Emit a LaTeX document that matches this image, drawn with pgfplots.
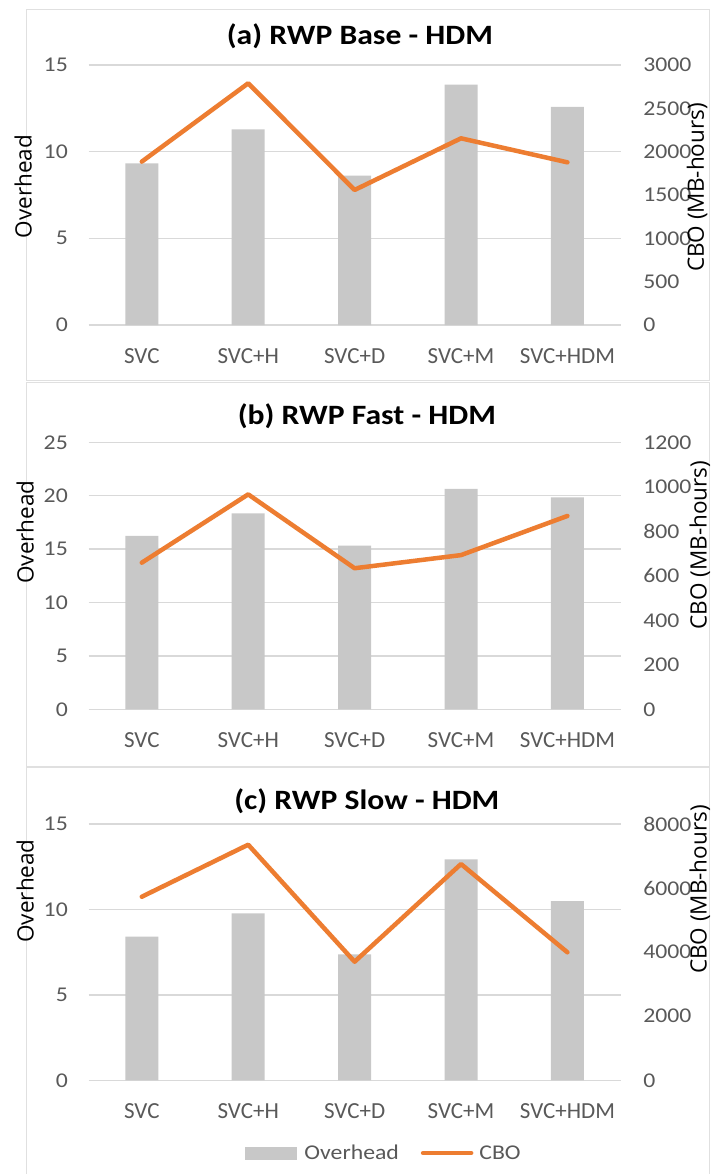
\documentclass[border=0pt]{standalone}
\usepackage{pgfplots}
\pgfplotsset{compat=1.18}
\usepackage{pgfplotstable}
\usepackage{fontspec}
\setmainfont{Carlito}[FakeStretch=1.13]
\newfontfamily\catfont{Carlito}
\newfontfamily\axlabelfont{Open Sans}

\definecolor{barfill}{HTML}{C8C8C8}
\definecolor{cboline}{HTML}{ED7D31}
\definecolor{ticktext}{HTML}{595959}
\definecolor{gridc}{HTML}{D9D9D9}
\definecolor{framec}{HTML}{E0E0E0}

% Overhead and CBO (MB-hours) per configuration
\pgfplotstableread{
idx ovh cbo
0 9.33 1885
1 11.29 2789
2 8.62 1558
3 13.87 2154
4 12.58 1877
}\dataBase
\pgfplotstableread{
idx ovh cbo
0 16.25 659
1 18.35 966
2 15.32 634
3 20.63 693
4 19.85 869
}\dataFast
\pgfplotstableread{
idx ovh cbo
0 8.41 5730
1 9.77 7354
2 7.37 3702
3 12.93 6751
4 10.49 3995
}\dataSlow

\pgfplotsset{
  common/.style={
    scale only axis, width=532pt, anchor=south west,
    xmin=-0.5, xmax=4.5, ymin=0,
    axis line style={draw=none}, major tick length=0pt,
    tick label style={font=\fontsize{21}{25}\selectfont, text=ticktext},
    ylabel style={font=\axlabelfont\fontsize{22.5}{27}\selectfont, text=black, anchor=center},
  },
  leftpanel/.style={
    common,
    xtick={0,...,4}, xticklabels={SVC,SVC+H,SVC+D,SVC+M,SVC+HDM},
    xticklabel style={font=\catfont\fontsize{23}{27}\selectfont, anchor=center, yshift=-31pt},
    yticklabel style={anchor=east, inner sep=0pt, xshift=-20.6pt},
    ymajorgrids, grid style={gridc, line width=1.5pt},
    ylabel={Overhead},
    title style={font=\bfseries\fontsize{28}{32}\selectfont, anchor=center, yshift=0pt},
  },
  rightpanel/.style={
    common,
    axis x line=none, axis y line*=right,
    yticklabel style={anchor=west, inner sep=0pt, xshift=22.5pt},
    ylabel={CBO (MB-hours)},
  },
}

\begin{document}
\begin{tikzpicture}[x=1pt,y=1pt]
\useasboundingbox (0,0) rectangle (713,-1174);
\fill[white] (0,0) rectangle (713,-1174);

% panel frames
\draw[framec, line width=1pt] (26,-10) rectangle (709,-380.5);
\draw[framec, line width=1pt] (26,-382.5) rectangle (709,-766.5);
\draw[framec, line width=1pt] (26,-767.5) rectangle (709,-1190);

% ---------------- (a) RWP Base - HDM
\begin{axis}[leftpanel, at={(88.6pt,-325pt)}, height=260pt, ymax=15,
  ytick={0,5,10,15}, yticklabels={0,5,10,15},
  title={(a) RWP Base - HDM}, title style={at={(axis description cs:0.510,1.088)}},
  ylabel style={at={(axis description cs:-0.123,0.533)}}]
\addplot[ybar, bar width=33pt, fill=barfill, draw=none] table[x=idx,y=ovh]{\dataBase};
\end{axis}
\begin{axis}[rightpanel, at={(88.6pt,-325pt)}, height=260pt, ymax=3000,
  ytick={0,500,...,3000}, yticklabels={0,500,1000,1500,2000,2500,3000},
  ylabel style={at={(axis description cs:1.1436,0.529)}}]
\addplot[cboline, line width=4.5pt, line join=round, line cap=round, mark=none] table[x=idx,y=cbo]{\dataBase};
\end{axis}

% ---------------- (b) RWP Fast - HDM
\begin{axis}[leftpanel, at={(88.6pt,-709.3pt)}, height=267pt, ymax=25,
  ytick={0,5,...,25}, yticklabels={0,5,10,15,20,25},
  title={(b) RWP Fast - HDM}, title style={at={(axis description cs:0.523,1.076)}},
  ylabel style={at={(axis description cs:-0.119,0.664)}}]
\addplot[ybar, bar width=33pt, fill=barfill, draw=none] table[x=idx,y=ovh]{\dataFast};
\end{axis}
\begin{axis}[rightpanel, at={(88.6pt,-709.3pt)}, height=267pt, ymax=1200,
  ytick={0,200,...,1200}, yticklabels={0,200,400,600,800,1000,1200},
  ylabel style={at={(axis description cs:1.149,0.615)}}]
\addplot[cboline, line width=4.5pt, line join=round, line cap=round, mark=none] table[x=idx,y=cbo]{\dataFast};
\end{axis}

% ---------------- (c) RWP Slow - HDM
\begin{axis}[leftpanel, at={(88.6pt,-1080.3pt)}, height=256.3pt, ymax=15,
  ytick={0,5,10,15}, yticklabels={0,5,10,15},
  title={(c) RWP Slow - HDM}, title style={at={(axis description cs:0.523,1.066)}},
  ylabel style={at={(axis description cs:-0.119,0.739)}}]
\addplot[ybar, bar width=33pt, fill=barfill, draw=none] table[x=idx,y=ovh]{\dataSlow};
\end{axis}
\begin{axis}[rightpanel, at={(88.6pt,-1080.3pt)}, height=256.3pt, ymax=8000,
  ytick={0,2000,...,8000}, yticklabels={0,2000,4000,6000,8000},
  ylabel style={at={(axis description cs:1.149,0.744)}},
  legend columns=2,
  legend style={at={(axis description cs:0.555,-0.284)}, anchor=center, draw=none, fill=none,
    font=\fontsize{21}{25}\selectfont, text=ticktext, inner sep=0pt,
    /tikz/every even column/.append style={column sep=20pt}},
  legend cell align=left]
\addlegendimage{legend image code/.code={\fill[barfill] (0pt,-6pt) rectangle (51pt,6pt); \path (57pt,0pt);}}
\addlegendentry{Overhead}
\addplot[cboline, line width=4.5pt, line join=round, line cap=round, mark=none,
  legend image code/.code={\draw[cboline, line width=4.5pt, line cap=round] (2pt,0pt) -- (50pt,0pt); \path (54pt,0pt);}]
  table[x=idx,y=cbo]{\dataSlow};
\addlegendentry{CBO}
\end{axis}
\end{tikzpicture}
\end{document}
